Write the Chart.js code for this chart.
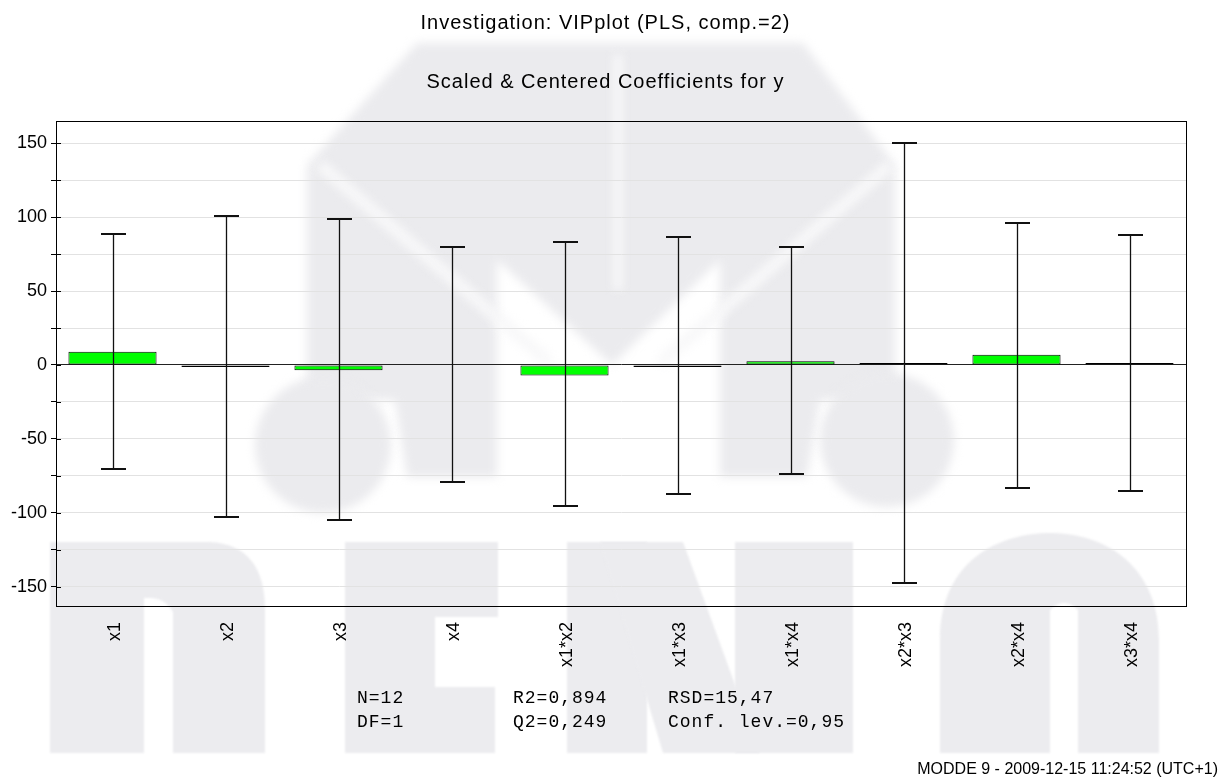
<!DOCTYPE html>
<html>
<head>
<meta charset="utf-8">
<script src="https://cdn.jsdelivr.net/npm/chart.js@4.4.0/dist/chart.umd.min.js"></script>
<style>
  body { margin: 0; background: #fff; }
  #page { position: relative; width: 1224px; height: 783px; overflow: hidden; font-family: 'Liberation Sans', Arial, sans-serif; }
  #bg, #chart { position: absolute; left: 0; top: 0; }
  .txt { position: absolute; white-space: pre; color: #000; }
  .title { left: 0; width: 1211px; text-align: center; font-size: 20px; letter-spacing: 1px; }
  .stat { font-family: 'Liberation Mono', 'Courier New', monospace; font-size: 18px; letter-spacing: 1px; }
</style>
</head>
<body>
<div id="page">
  <canvas id="bg" width="1224" height="783"></canvas>
  <canvas id="chart" width="1224" height="783"></canvas>
  <div class="txt title" style="top:11px">Investigation: VIPplot (PLS, comp.=2)</div>
  <div class="txt title" style="top:70px">Scaled &amp; Centered Coefficients for y</div>
  <div class="txt stat" style="left:357px; top:688px">N=12</div>
  <div class="txt stat" style="left:357px; top:712px">DF=1</div>
  <div class="txt stat" style="left:513px; top:688px">R2=0,894</div>
  <div class="txt stat" style="left:513px; top:712px">Q2=0,249</div>
  <div class="txt stat" style="left:668px; top:688px">RSD=15,47</div>
  <div class="txt stat" style="left:668px; top:712px">Conf. lev.=0,95</div>
  <div class="txt" style="right:6px; top:760px; font-size:16px">MODDE 9 - 2009-12-15 11:24:52 (UTC+1)</div>
</div>
<script>
// coefficient plot data
const terms = ['x1', 'x2', 'x3', 'x4', 'x1*x2', 'x1*x3', 'x1*x4', 'x2*x3', 'x2*x4', 'x3*x4'];
const coefs = [9.0, -1.3, -3.6, 0.0, -7.1, -1.3, 2.6, 1.3, 6.9, 1.3];
const confHigh = [88.9, 100.6, 98.4, 79.9, 83.3, 86.7, 79.9, 150.4, 95.9, 87.8];
const confLow = [-70.2, -102.8, -104.8, -79.4, -95.6, -87.5, -73.6, -147.6, -83.0, -85.3];
const yTicks = [-150, -125, -100, -75, -50, -25, 0, 25, 50, 75, 100, 125, 150];

// faint demo watermark behind the plot (logo + block letters)
const drawWatermark = () => {
  const ctx = document.getElementById('bg').getContext('2d');
  const poly = (pts) => {
    ctx.beginPath();
    ctx.moveTo(pts[0][0], pts[0][1]);
    pts.slice(1).forEach(p => ctx.lineTo(p[0], p[1]));
    ctx.closePath();
    ctx.fill();
  };

  // logo, blurred
  ctx.save();
  ctx.filter = 'blur(5px)';
  ctx.fillStyle = '#ebebee';
  poly([[307, 165], [417, 43], [803, 43], [895, 165], [895, 400], [820, 400], [807, 477], [720, 477],
        [720, 260], [612, 365], [497, 260], [497, 477], [407, 477], [395, 400], [307, 400]]);
  ctx.beginPath(); ctx.arc(323, 445, 68, 0, Math.PI * 2); ctx.fill();
  ctx.beginPath(); ctx.arc(887, 440, 67, 0, Math.PI * 2); ctx.fill();
  ctx.strokeStyle = '#f8f8f9';
  ctx.lineWidth = 12;
  ctx.beginPath();
  ctx.moveTo(320, 165); ctx.lineTo(550, 363);
  ctx.moveTo(890, 165); ctx.lineTo(660, 363);
  ctx.stroke();
  ctx.lineWidth = 9;
  ctx.beginPath(); ctx.moveTo(618, 55); ctx.lineTo(618, 290); ctx.stroke();
  ctx.restore();

  // letters D E M O, cut at the bottom
  ctx.save();
  ctx.filter = 'blur(1px)';
  ctx.fillStyle = '#ececef';
  // D
  ctx.beginPath();
  ctx.moveTo(50, 753); ctx.lineTo(50, 542); ctx.lineTo(210, 542);
  ctx.quadraticCurveTo(265, 545, 265, 610); ctx.lineTo(265, 753); ctx.lineTo(173, 753);
  ctx.lineTo(173, 612); ctx.quadraticCurveTo(165, 598, 150, 598); ctx.lineTo(144, 598); ctx.lineTo(144, 753);
  ctx.closePath(); ctx.fill();
  // E
  poly([[345, 753], [345, 542], [498, 542], [498, 617], [435, 617], [435, 687], [495, 687], [495, 753]]);
  // M
  ctx.fillRect(567, 542, 80, 211);
  poly([[600, 542], [683, 542], [760, 753], [663, 753]]);
  ctx.fillRect(735, 542, 118, 211);
  // O
  ctx.beginPath();
  ctx.moveTo(940, 753); ctx.lineTo(940, 640);
  ctx.bezierCurveTo(940, 560, 1000, 533, 1050, 533);
  ctx.bezierCurveTo(1110, 533, 1159, 570, 1159, 640);
  ctx.lineTo(1159, 753); ctx.lineTo(1078, 753); ctx.lineTo(1078, 610);
  ctx.quadraticCurveTo(1064, 596, 1050, 610); ctx.lineTo(1050, 753);
  ctx.closePath(); ctx.fill();
  ctx.restore();
};
drawWatermark();

const frame = {
  id: 'frame',
  afterDraw(chart) {
    const a = chart.chartArea, ctx = chart.ctx, y = chart.scales.y;
    ctx.save();
    ctx.strokeStyle = '#000';
    ctx.lineWidth = 1;
    ctx.strokeRect(Math.round(a.left) + 0.5, Math.round(a.top) + 0.5, Math.round(a.right - a.left), Math.round(a.bottom - a.top));
    // tick marks also poke into the plot
    ctx.beginPath();
    yTicks.forEach(v => {
      const py = Math.round(y.getPixelForValue(v)) + 0.5;
      ctx.moveTo(a.left, py); ctx.lineTo(a.left + 5, py);
    });
    ctx.stroke();
    ctx.restore();
  }
};

const errorBars = {
  id: 'errorBars',
  afterDatasetsDraw(chart) {
    const x = chart.scales.x, y = chart.scales.y, ctx = chart.ctx;
    ctx.save();
    ctx.strokeStyle = '#111';
    terms.forEach((t, i) => {
      const px = Math.round(x.getPixelForValue(i)) + 0.5;
      const yh = Math.round(y.getPixelForValue(confHigh[i]));
      const yl = Math.round(y.getPixelForValue(confLow[i]));
      ctx.lineWidth = 1.3;
      ctx.beginPath(); ctx.moveTo(px, yh); ctx.lineTo(px, yl); ctx.stroke();
      ctx.lineWidth = 2;
      ctx.beginPath();
      ctx.moveTo(px - 12.5, yh); ctx.lineTo(px + 12.5, yh);
      ctx.moveTo(px - 12.5, yl); ctx.lineTo(px + 12.5, yl);
      ctx.stroke();
    });
    ctx.restore();
  }
};

Chart.defaults.font.family = "'Liberation Sans', Arial, sans-serif";
Chart.defaults.color = '#000';

new Chart(document.getElementById('chart'), {
  type: 'bar',
  data: {
    labels: terms,
    datasets: [{
      label: 'Coefficients',
      data: coefs,
      // bars thinner than their outline come out as a solid black line
      backgroundColor: (c) => (Math.abs(c.raw) < 2 ? '#000' : '#00ff00'),
      borderColor: '#000',
      borderWidth: 1,
      borderSkipped: false,
      barPercentage: 0.78,
      categoryPercentage: 1
    }]
  },
  options: {
    responsive: false,
    animation: false,
    layout: { padding: { top: 121, right: 38, left: 0, bottom: 0 } },
    plugins: { legend: { display: false }, tooltip: { enabled: false } },
    scales: {
      x: {
        grid: { display: false, drawTicks: false },
        border: { color: '#000' },
        ticks: { autoSkip: false, minRotation: 90, maxRotation: 90, padding: 16, labelOffset: 3, font: { size: 18 } },
        afterFit: (axis) => { axis.height = 177; }
      },
      y: {
        min: -163,
        max: 165,
        afterBuildTicks: (axis) => { axis.ticks = yTicks.map(v => ({ value: v })); },
        ticks: { padding: 4, font: { size: 18 }, callback: (v) => (v % 50 === 0 ? v : '') },
        grid: {
          color: (c) => (c.tick && c.tick.value === 0 ? '#222' : '#e2e2e2'),
          tickColor: '#000',
          tickLength: 5
        },
        border: { color: '#000' },
        afterFit: (axis) => { axis.width = 56; }
      }
    }
  },
  plugins: [errorBars, frame]
});
</script>
</body>
</html>
